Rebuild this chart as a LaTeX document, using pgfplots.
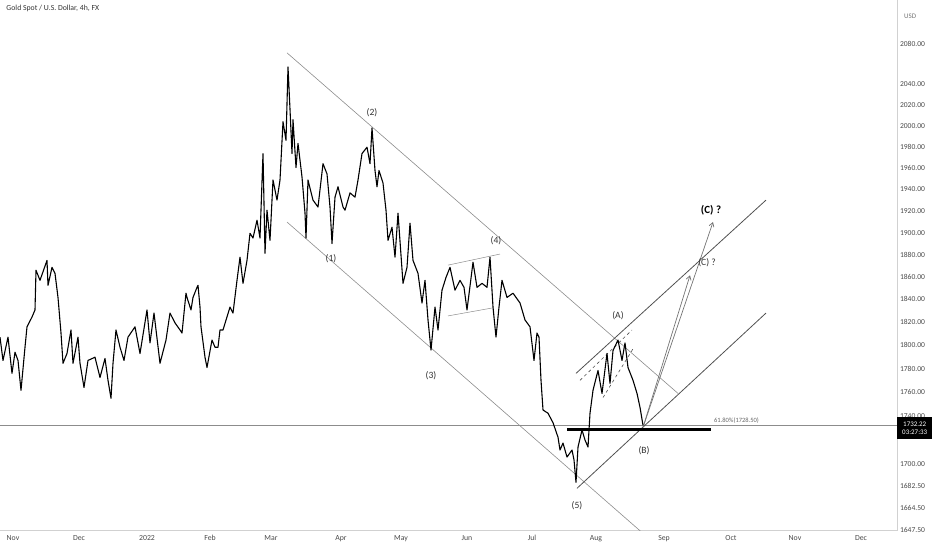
\documentclass[border=0pt]{standalone}
\usepackage{pgfplots}
\usepackage{pgfplotstable}
\pgfplotsset{compat=1.18}
\usepackage{fontspec}
\setmainfont{Carlito}
\usetikzlibrary{arrows.meta}

\definecolor{chan}{HTML}{8C8C8C}
\definecolor{rise}{HTML}{505050}
\definecolor{lab}{HTML}{333333}
\definecolor{tick}{HTML}{4A4A4A}

% x = position on the time axis (months ticked below), y = price in USD
\pgfplotstableread{
x y
0 1807
3 1787
8 1807
12 1776
15 1794
18 1787
21 1761.5
25 1798.4
27 1816
32 1824.6
35 1830.8
36 1866
40 1857
47 1875
48 1852.6
52 1868.7
55 1863.3
58 1842
61 1810.7
63 1784.5
67 1793
71 1813.3
73 1784.5
78 1807
80 1784.5
84 1764
88 1787
95 1789.6
100 1772.5
105 1788.7
108 1770
111 1754.7
113 1784.5
116 1813.3
120 1798.4
124 1787
128 1807
135 1816
140 1793
147 1830.8
150 1802
154 1828.2
160 1784.5
166 1804.6
170 1828.2
175 1819.4
180 1813.3
182 1810.7
186 1845.6
187 1842
191 1830.8
193 1842
197 1850.8
198 1852.6
200 1833.4
201 1816
205 1789.6
207 1780.9
212 1804.6
215 1798.4
218 1798.4
220 1813.3
223 1813.3
230 1833.4
233 1828.2
237 1857
240 1877.7
243 1854.3
247 1875
250 1899.5
253 1895.2
257 1911.5
260 1895.2
263 1973.7
265 1881.3
267 1920.7
270 1893
273 1948.6
277 1930
280 1948.6
283 2003.6
286 1986
288 2057
290 2015.7
292 1973.7
293 2005.5
296 1960.5
298 1983
302 1951.4
305 1917.9
306 1895.2
308 1948.6
313 1930
318 1923.6
323 1964.1
327 1954.5
330 1923.6
332 1890.3
335 1932.8
338 1942.3
343 1923.6
345 1920.7
350 1936.6
355 1932.8
358 1948.6
362 1973.7
367 1979.6
370 1964.1
372 1998
375 1957.5
377 1942.3
379 1957.5
383 1945.8
386 1920.7
388 1893
392 1904.9
395 1877.7
398 1917.9
403 1854.3
407 1868.7
410 1908.7
413 1875
418 1863.3
422 1836.8
425 1857
428 1822
431 1795.9
435 1833.4
438 1813.3
442 1848.3
446 1859.7
450 1868.7
455 1848.3
460 1857
464 1850.8
467 1830.8
473 1873.2
477 1850.8
482 1854.3
487 1850.8
490 1877.7
493 1833.4
496 1807
499 1833.4
502 1857
507 1842
513 1845.6
520 1836.8
525 1822
530 1816
534 1787
537 1810.7
539 1807
541 1770
543 1745
548 1742.3
553 1734.3
558 1722.3
560 1711.8
563 1717.5
567 1706
572 1711.8
574 1703.6
576 1685.4
578 1714.3
582 1728.3
585 1720
588 1714.3
590 1742.3
593 1761.5
598 1778.5
602 1758.9
607 1793
610 1767.4
613 1795.6
618 1804.6
622 1787
625 1802
628 1780.9
633 1770
637 1758.9
640 1747.1
643 1732.2
}\gold

\begin{document}
\begin{tikzpicture}
\begin{axis}[
    at={(0,0)}, anchor=north west,
    width=897bp, height=531bp, scale only axis,
    xmin=0, xmax=897,
    ymode=log, ymin=1646.6, ymax=2124.4,
    axis x line*=bottom, axis y line*=right,
    axis line style={draw=black!18, line width=0.6pt},
    major tick length=0pt,
    clip mode=individual,
    xtick={13,79,147,210,271,341,401,467,532,596,664,731,795,861},
    xticklabels={Nov,Dec,2022,Feb,Mar,Apr,May,Jun,Jul,Aug,Sep,Oct,Nov,Dec},
    ytick={1647.5,1664.5,1682.5,1700,1740,1760,1780,1800,1820,1840,1860,1880,1900,1920,1940,1960,1980,2000,2020,2040,2080},
    yticklabels={1647.50,1664.50,1682.50,1700.00,1740.00,1760.00,1780.00,1800.00,1820.00,1840.00,1860.00,1880.00,1900.00,1920.00,1940.00,1960.00,1980.00,2000.00,2020.00,2040.00,2080.00},
    xticklabel style={font=\fontsize{7.8}{9}\selectfont, text=tick, yshift=-1bp},
    yticklabel style={font=\fontsize{7.6}{9}\selectfont, text=tick, anchor=west, xshift=-0.5bp},
    /pgf/number format/assume math mode=true,
]
% current price line
\addplot[black!45, line width=0.5pt] coordinates {(0,1732.22) (897,1732.22)};

% falling channel
\addplot[chan, line width=0.6pt] coordinates {(287,2071) (678,1758.9)};
\addplot[chan, line width=0.6pt] coordinates {(287,1909.6) (660,1633)};
% wave (4) box
\addplot[chan, line width=0.5pt] coordinates {(448,1870.5) (500,1880.5)};
\addplot[chan, line width=0.5pt] coordinates {(448,1825.5) (493,1832.6)};

% rising channel
\addplot[rise, line width=0.8pt] coordinates {(577,1680.6) (766,1828.1)};
\addplot[rise, line width=0.8pt] coordinates {(576,1776) (766,1930)};
\addplot[rise, dashed, line width=0.6pt] coordinates {(580,1770) (632,1813.3)};
\addplot[rise, dashed, line width=0.6pt] coordinates {(603,1755.5) (634,1798.4)};

% projections
\addplot[rise!80, line width=0.7pt, -{Straight Barb[length=4bp,width=5bp]}] coordinates {(643,1730.6) (690,1861.5)};
\addplot[rise!80, line width=0.7pt, -{Straight Barb[length=4bp,width=5bp]}] coordinates {(643,1730.6) (713,1909.6)};

% price
\addplot[black, line width=1.1pt, line join=round] table[x=x, y=y] {\gold};

% 61.8% level
\addplot[black, line width=2.8pt] coordinates {(567,1728.5) (711,1728.5)};

% wave labels
\begin{scope}[every node/.style={text=lab, font=\fontsize{9.6}{11}\selectfont}]
\node at (axis cs:331,1876.8) {(1)};
\node at (axis cs:372,2012.3) {(2)};
\node at (axis cs:431,1774.3) {(3)};
\node at (axis cs:496,1893) {(4)};
\node at (axis cs:577,1667) {(5)};
\node at (axis cs:618,1825.5) {(A)};
\node at (axis cs:644,1711) {(B)};
\node at (axis cs:707,1873.2) {(C) ?};
\node[font=\fontsize{11}{13}\selectfont\bfseries, text=black] at (axis cs:711,1920.7) {(C) ?};
\end{scope}
\node[anchor=west, text=black!60, font=\fontsize{6.5}{7}\selectfont, inner sep=0pt] at (axis cs:714,1735.8) {61.80\%(1728.50)};

% header text and price tag
\node[anchor=north west, inner sep=0pt, text=lab, font=\fontsize{7.8}{9}\selectfont] at (rel axis cs:0.007,0.991) {Gold Spot / U.S. Dollar, 4h, FX};
\node[anchor=west, inner sep=0pt, text=black!55, font=\fontsize{7}{8}\selectfont] at (axis cs:904,2108) {USD};
\node[anchor=north west, fill=black, text=white, inner xsep=2bp, inner ysep=1.5bp, minimum height=22bp, minimum width=36bp, align=center, font=\fontsize{7}{8.5}\selectfont] at (axis cs:896.5,1738.9) {1732.22\\03:27:33};
\end{axis}
\pgfresetboundingbox
\path (0,0) rectangle (932bp,-550bp);
\end{tikzpicture}
\end{document}
